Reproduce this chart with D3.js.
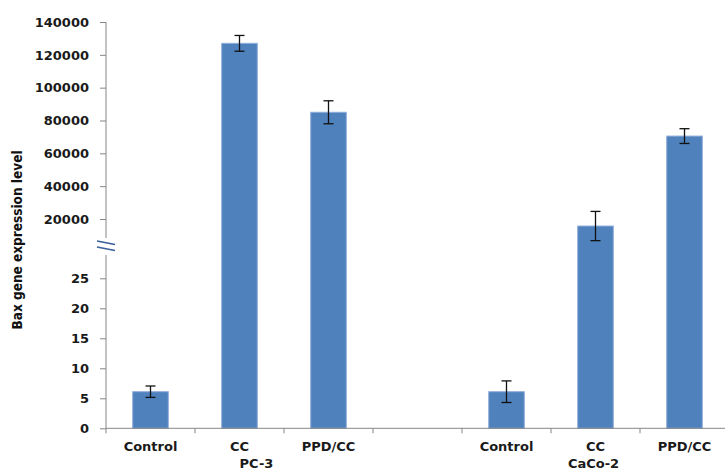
<!DOCTYPE html>
<html>
<head>
<meta charset="utf-8">
<script src="https://cdn.jsdelivr.net/npm/d3@7"></script>
<style>
  body { margin: 0; background: #fff; }
  .tick text { font-family: "DejaVu Sans", Verdana, sans-serif; font-weight: bold; font-size: 13px; fill: #1a1a1a; }
  .tick line { stroke: #868686; }
</style>
</head>
<body>
<script>
var w = 725;
var h = 471;

// data
var groups = ["PC-3", "CaCo-2"];
var categories = ["Control", "CC", "PPD/CC"];
var pc3Means = [6.1, 127000, 85000];
var pc3Errors = [0.95, 4800, 7000];
var caco2Means = [6.1, 15700, 70500];
var caco2Errors = [1.8, 8900, 4500];
var lowTicks = [0, 5, 10, 15, 20, 25];
var highTicks = [20000, 40000, 60000, 80000, 100000, 120000, 140000];

var dataset = [];
categories.forEach((c, i) => dataset.push({ key: "PC-3|" + c, label: c, mean: pc3Means[i], err: pc3Errors[i] }));
var gapKey = "gap";
categories.forEach((c, i) => dataset.push({ key: "CaCo-2|" + c, label: c, mean: caco2Means[i], err: caco2Errors[i] }));

var keys = dataset.slice(0, 3).map(d => d.key).concat([gapKey], dataset.slice(3).map(d => d.key));

var axisX = 106;
var baseY = 428.3;
var breakTop = 238;
var breakBottom = 255;

var xScale = d3.scaleBand()
    .domain(keys)
    .range([axisX, 729]);

var yLow = d3.scaleLinear().domain([0, 25]).range([baseY, 278.3]);
var yHigh = d3.scaleLinear().domain([0, 140000]).range([251.8, 22]);
var yVal = v => v > 25 ? yHigh(v) : yLow(v);

var svg = d3.select("body")
    .append("svg")
    .attr("width", w)
    .attr("height", h);

// bars
var barW = xScale.step() * 0.4;
svg.selectAll("rect.bar")
    .data(dataset)
    .enter()
    .append("rect")
    .attr("class", "bar")
    .attr("x", d => xScale(d.key) + (xScale.step() - barW) / 2)
    .attr("y", d => yVal(d.mean))
    .attr("width", barW)
    .attr("height", d => baseY - yVal(d.mean))
    .attr("fill", "#4f81bd")
    .attr("stroke", "#8eaddb")
    .attr("stroke-width", 1);

// error bars
var cx = d => xScale(d.key) + xScale.step() / 2;
var errs = svg.selectAll("g.err")
    .data(dataset)
    .enter()
    .append("g")
    .attr("stroke", "#111")
    .attr("stroke-width", 1.3);
errs.append("line")
    .attr("x1", cx).attr("x2", cx)
    .attr("y1", d => yVal(d.mean + d.err))
    .attr("y2", d => yVal(d.mean - d.err));
errs.append("line")
    .attr("x1", d => cx(d) - 5).attr("x2", d => cx(d) + 5)
    .attr("y1", d => yVal(d.mean + d.err))
    .attr("y2", d => yVal(d.mean + d.err));
errs.append("line")
    .attr("x1", d => cx(d) - 5).attr("x2", d => cx(d) + 5)
    .attr("y1", d => yVal(d.mean - d.err))
    .attr("y2", d => yVal(d.mean - d.err));

// y axes (two segments)
var yAxisHigh = d3.axisLeft(yHigh).tickValues(highTicks).tickFormat(d3.format("d")).tickSize(6).tickPadding(11);
var yAxisLow = d3.axisLeft(yLow).tickValues(lowTicks).tickFormat(d3.format("d")).tickSize(6).tickPadding(11);

svg.append("g")
    .attr("transform", `translate(${axisX},0)`)
    .call(yAxisHigh)
    .call(g => g.select(".domain").remove());
svg.append("g")
    .attr("transform", `translate(${axisX},0)`)
    .call(yAxisLow)
    .call(g => g.select(".domain").remove());

svg.append("line")
    .attr("x1", axisX).attr("x2", axisX)
    .attr("y1", yHigh(140000)).attr("y2", breakTop)
    .attr("stroke", "#868686");
svg.append("line")
    .attr("x1", axisX).attr("x2", axisX)
    .attr("y1", breakBottom).attr("y2", baseY)
    .attr("stroke", "#868686");

// break marks
[0, 6].forEach(o => {
    svg.append("line")
        .attr("x1", 97).attr("y1", 241 + o)
        .attr("x2", 115).attr("y2", 244.5 + o)
        .attr("stroke", "#3a5f9a")
        .attr("stroke-width", 1.6);
});

// x axis
svg.append("line")
    .attr("x1", axisX).attr("x2", w)
    .attr("y1", baseY).attr("y2", baseY)
    .attr("stroke", "#868686");
svg.selectAll("line.xtick")
    .data(keys)
    .enter()
    .append("line")
    .attr("x1", d => xScale(d)).attr("x2", d => xScale(d))
    .attr("y1", baseY).attr("y2", baseY + 5)
    .attr("stroke", "#868686");

var labelFont = "'DejaVu Sans', Verdana, sans-serif";
svg.selectAll("text.cat")
    .data(dataset)
    .enter()
    .append("text")
    .attr("x", cx)
    .attr("y", 451)
    .attr("text-anchor", "middle")
    .style("font-family", labelFont)
    .style("font-weight", "bold")
    .style("font-size", "13px")
    .style("fill", "#1a1a1a")
    .text(d => d.label);

var groupOffsets = [17, -2];
svg.selectAll("text.group")
    .data(groups)
    .enter()
    .append("text")
    .attr("x", (g, i) => xScale(g + "|CC") + xScale.step() / 2 + groupOffsets[i])
    .attr("y", 468)
    .attr("text-anchor", "middle")
    .style("font-family", labelFont)
    .style("font-weight", "bold")
    .style("font-size", "13px")
    .style("fill", "#1a1a1a")
    .text(g => g);

// y title
svg.append("text")
    .attr("transform", "translate(22,240) rotate(-90)")
    .attr("text-anchor", "middle")
    .style("font-family", "'Liberation Sans Narrow', 'DejaVu Sans Condensed', sans-serif")
    .style("font-weight", "bold")
    .style("font-size", "13.5px")
    .style("fill", "#111")
    .text("Bax gene expression level");
</script>
</body>
</html>
